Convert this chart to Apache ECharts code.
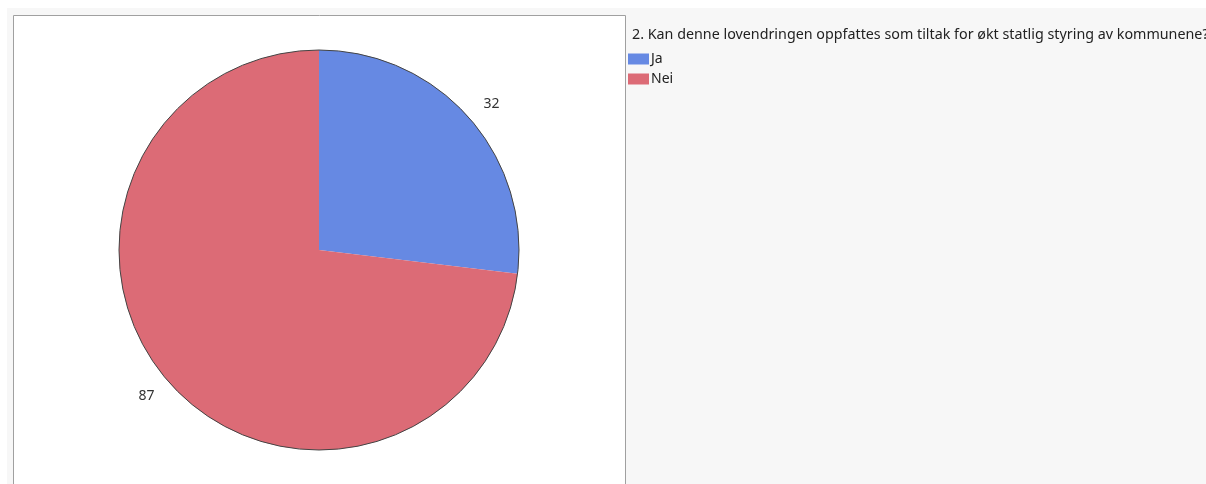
<!DOCTYPE html>
<html>
<head>
<meta charset="utf-8">
<script src="https://cdn.jsdelivr.net/npm/echarts@6/dist/echarts.min.js"></script>
<style>
  html, body { margin: 0; padding: 0; background: #ffffff; }
  #chart { position: absolute; left: 7px; top: 8px; width: 1199px; height: 476px; }
</style>
</head>
<body>
<div id="chart"></div>
<script>
// Survey question and answers
const questionTitle = '2. Kan denne lovendringen oppfattes som tiltak for økt statlig styring av kommunene?';
const answerLabels = ['Ja', 'Nei'];
const answerCounts = [32, 87];
const answerColors = ['#6689e3', '#dc6b76'];

const FONT = '"Noto Sans", "Open Sans", sans-serif';

const chart = echarts.init(document.getElementById('chart'), null, { renderer: 'canvas' });

const pieCenter = [312, 242];
const pieRadius = 200;

const sliceData = answerLabels.map((name, i) => ({
  name: name,
  value: answerCounts[i],
  itemStyle: { color: answerColors[i] }
}));

chart.setOption({
  backgroundColor: '#f7f7f7',
  animation: false,
  title: {
    text: questionTitle,
    left: 620,
    top: 15,
    textStyle: { fontFamily: FONT, fontSize: 14.3, fontWeight: 'normal', color: '#222222' }
  },
  legend: {
    orient: 'vertical',
    left: 621,
    top: 44,
    padding: 0,
    itemWidth: 21,
    itemHeight: 11,
    itemGap: 6,
    icon: 'rect',
    selectedMode: false,
    data: answerLabels,
    textStyle: { fontFamily: FONT, fontSize: 14, lineHeight: 14, color: '#222222', padding: [0, 0, 0, -3] }
  },
  graphic: [{
    type: 'rect',
    left: 6,
    top: 7,
    shape: { width: 612, height: 480 },
    style: { fill: '#ffffff', stroke: '#a0a0a0', lineWidth: 1 },
    z: -10
  }],
  series: [
    {
      type: 'pie',
      center: pieCenter,
      radius: pieRadius,
      startAngle: 90,
      clockwise: true,
      avoidLabelOverlap: false,
      data: sliceData,
      itemStyle: { borderWidth: 0 },
      label: {
        show: true,
        position: 'outside',
        formatter: '{c}',
        fontFamily: FONT,
        fontSize: 14,
        color: '#333333',
        distanceToLabelLine: 0
      },
      labelLine: { show: false, length: 20, length2: 0 },
      emphasis: { disabled: true }
    },
    {
      // thin dark rim around the whole pie
      type: 'pie',
      center: pieCenter,
      radius: pieRadius,
      silent: true,
      data: [{ value: answerCounts.reduce((a, b) => a + b, 0), name: 'rim' }],
      itemStyle: { color: 'rgba(0,0,0,0)', borderColor: '#444444', borderWidth: 1 },
      label: { show: false },
      labelLine: { show: false },
      emphasis: { disabled: true }
    }
  ]
});
</script>
</body>
</html>
